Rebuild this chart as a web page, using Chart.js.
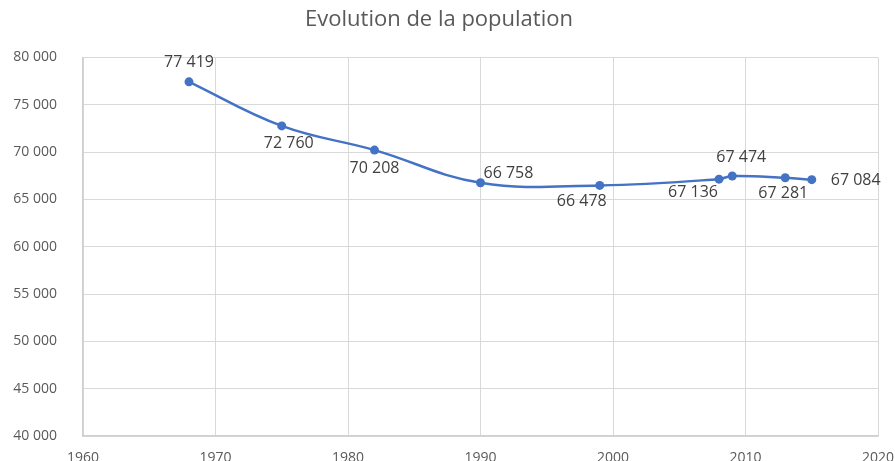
<!DOCTYPE html>
<html>
<head>
<meta charset="utf-8">
<script src="https://cdn.jsdelivr.net/npm/chart.js@4/dist/chart.umd.min.js"></script>
<style>
  html, body { margin: 0; padding: 0; background: #fff; }
  #wrap { width: 895px; height: 461px; }
</style>
</head>
<body>
<div id="wrap"><canvas id="popChart" width="895" height="461"></canvas></div>
<script>
// données
const annees = [1968, 1975, 1982, 1990, 1999, 2008, 2009, 2013, 2015];
const population = [77419, 72760, 70208, 66758, 66478, 67136, 67474, 67281, 67084];
const xTicks = [1960, 1970, 1980, 1990, 2000, 2010, 2020];
const yTicks = [40000, 45000, 50000, 55000, 60000, 65000, 70000, 75000, 80000];

// position des étiquettes (dx, dy, alignement)
const labelPos = [
    [0, -19, 'center'],
    [7, 18, 'center'],
    [0, 18, 'center'],
    [3, -9, 'left'],
    [-18, 16, 'center'],
    [-1, 13, 'right'],
    [9, -19, 'center'],
    [-2, 16, 'center'],
    [19, 1, 'left'],
];

const fmt = v => String(v).replace(/\B(?=(\d{3})+(?!\d))/g, ' ');

const labelsPlugin = {
    id: 'pointLabels',
    afterDatasetsDraw(chart) {
        const ctx = chart.ctx;
        const meta = chart.getDatasetMeta(0);
        ctx.save();
        ctx.font = '16px "Open Sans"';
        ctx.fillStyle = '#404040';
        ctx.textBaseline = 'middle';
        meta.data.forEach((pt, i) => {
            const [dx, dy, align] = labelPos[i];
            ctx.textAlign = align;
            ctx.fillText(fmt(population[i]), pt.x + dx, pt.y + dy);
        });
        ctx.restore();
    },
};

new Chart(document.getElementById('popChart'), {
    type: 'line',
    data: {
        datasets: [{
            data: annees.map((a, i) => ({ x: a, y: population[i] })),
            borderColor: '#4472C4',
            backgroundColor: '#4472C4',
            borderWidth: 2.5,
            pointRadius: 4.5,
            pointBorderWidth: 0,
            tension: 0.4,
            fill: false,
        }],
    },
    options: {
        responsive: false,
        animation: false,
        layout: { padding: { left: 0, right: 17, top: 0, bottom: 0 } },
        plugins: {
            legend: { display: false },
            tooltip: { enabled: false },
            title: {
                display: true,
                text: 'Evolution de la population',
                color: '#595959',
                font: { family: '"Open Sans"', size: 22, weight: 'normal' },
                padding: { top: 7, bottom: 24 },
            },
        },
        scales: {
            x: {
                type: 'linear',
                min: 1960,
                max: 2020,
                afterBuildTicks: axis => { axis.ticks = xTicks.map(v => ({ value: v })); },
                afterFit: axis => {
                    axis.height = 25;
                    axis.paddingLeft = 0;
                    axis.paddingRight = 0;
                },
                ticks: {
                    callback: v => String(v),
                    color: '#595959',
                    font: { family: '"Open Sans"', size: 14 },
                    padding: 14,
                    maxRotation: 0,
                },
                grid: { color: '#d9d9d9', lineWidth: 1, drawTicks: false },
                border: { color: '#d0d0d0', width: 1.5 },
            },
            y: {
                min: 40000,
                max: 80000,
                afterBuildTicks: axis => { axis.ticks = yTicks.map(v => ({ value: v })); },
                afterFit: axis => {
                    axis.width = 83;
                    axis.paddingTop = 0;
                    axis.paddingBottom = 0;
                },
                ticks: {
                    callback: v => fmt(v),
                    color: '#595959',
                    font: { family: '"Open Sans"', size: 14 },
                    padding: 26,
                },
                grid: { color: '#d9d9d9', lineWidth: 1, drawTicks: false },
                border: { color: '#d0d0d0', width: 1.5 },
            },
        },
    },
    plugins: [labelsPlugin],
});
</script>
</body>
</html>
